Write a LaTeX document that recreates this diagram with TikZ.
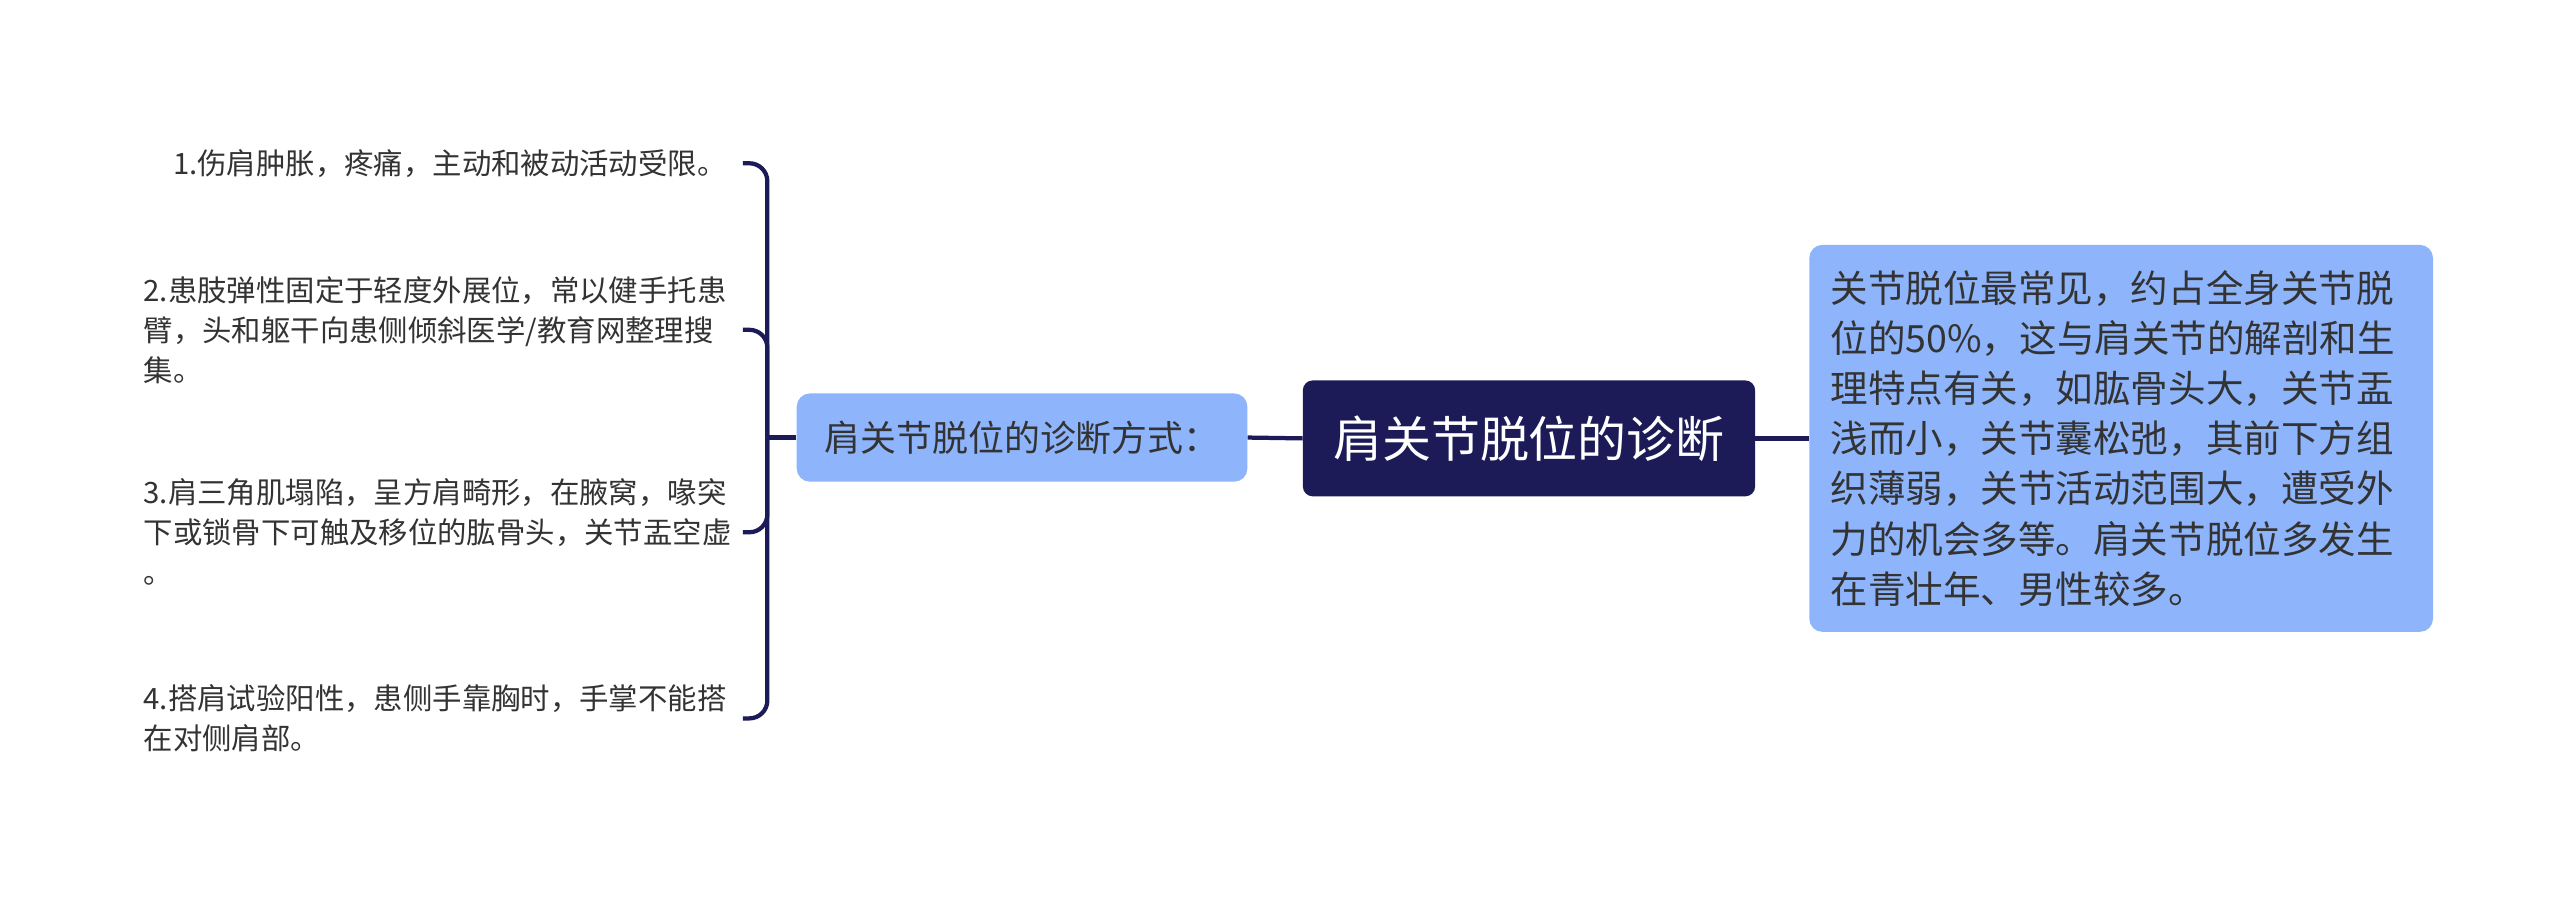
\documentclass[tikz,border=0pt]{standalone}
\usepackage{fontspec}
\setmainfont{Noto Sans CJK SC}
\definecolor{navy}{RGB}{28,27,87}
\definecolor{lightblue}{RGB}{142,181,251}
\definecolor{txt}{RGB}{51,51,51}
\begin{document}
\begin{tikzpicture}[x=1pt,y=-1pt,
  conn/.style={draw=navy,line width=2.6pt},
  itembox/.style={inner sep=0pt,outer sep=0pt,align=left,text=txt,
    font=\fontsize{18}{24.5}\selectfont},
  rootbox/.style={fill=navy,text=white,rounded corners=6pt,minimum width=277pt,minimum height=71pt,
    inner sep=0pt,font=\fontsize{30}{36}\selectfont},
  subbox/.style={fill=lightblue,text=txt,rounded corners=8pt,inner sep=0pt,
    font=\fontsize{22}{28}\selectfont},
]
\useasboundingbox (0,0) rectangle (1568,549.4);
\fill[white] (0,0) rectangle (1568,549.4);

\node[rootbox] (root) at (936.5,268.5) {肩关节脱位的诊断};
\node[subbox,minimum width=276pt,minimum height=54pt] (left) at (626,268) {肩关节脱位的诊断方式：};
\node[subbox,anchor=west,minimum height=237pt,text width=356pt,inner xsep=13pt,align=left,
  font=\fontsize{23}{30.7}\selectfont] (right) at (1108,268.5)
  {关节脱位最常见，约占全身关节脱\\位的50\%，这与肩关节的解剖和生\\理特点有关，如肱骨头大，关节盂\\浅而小，关节囊松弛，其前下方组\\织薄弱，关节活动范围大，遭受外\\力的机会多等。肩关节脱位多发生\\在青壮年、男性较多。};

\coordinate (J) at (470,268);

\node[itembox,anchor=east] (i1) at (445,100) {1.伤肩肿胀，疼痛，主动和被动活动受限。};
\node[itembox,anchor=west,text width=357pt] (i2) at (88,202) {2.患肢弹性固定于轻度外展位，常以健手托患\\臂，头和躯干向患侧倾斜医学/教育网整理搜\\集。};
\node[itembox,anchor=west,text width=357pt] (i3) at (88,326) {3.肩三角肌塌陷，呈方肩畸形，在腋窝，喙突\\下或锁骨下可触及移位的肱骨头，关节盂空虚\\。};
\node[itembox,anchor=west,text width=357pt] (i4) at (88,440) {4.搭肩试验阳性，患侧手靠胸时，手掌不能搭\\在对侧肩部。};

\draw[conn] (root.west) -- (left.east);
\draw[conn] (root.east) -- (right.west);
\draw[conn] (left.west) -- (J);
\foreach \n in {i1,i2,i3,i4}{
  \draw[conn,rounded corners=11pt] (J) |- ([xshift=10pt]\n.east |- \n.east);
}
\end{tikzpicture}
\end{document}
